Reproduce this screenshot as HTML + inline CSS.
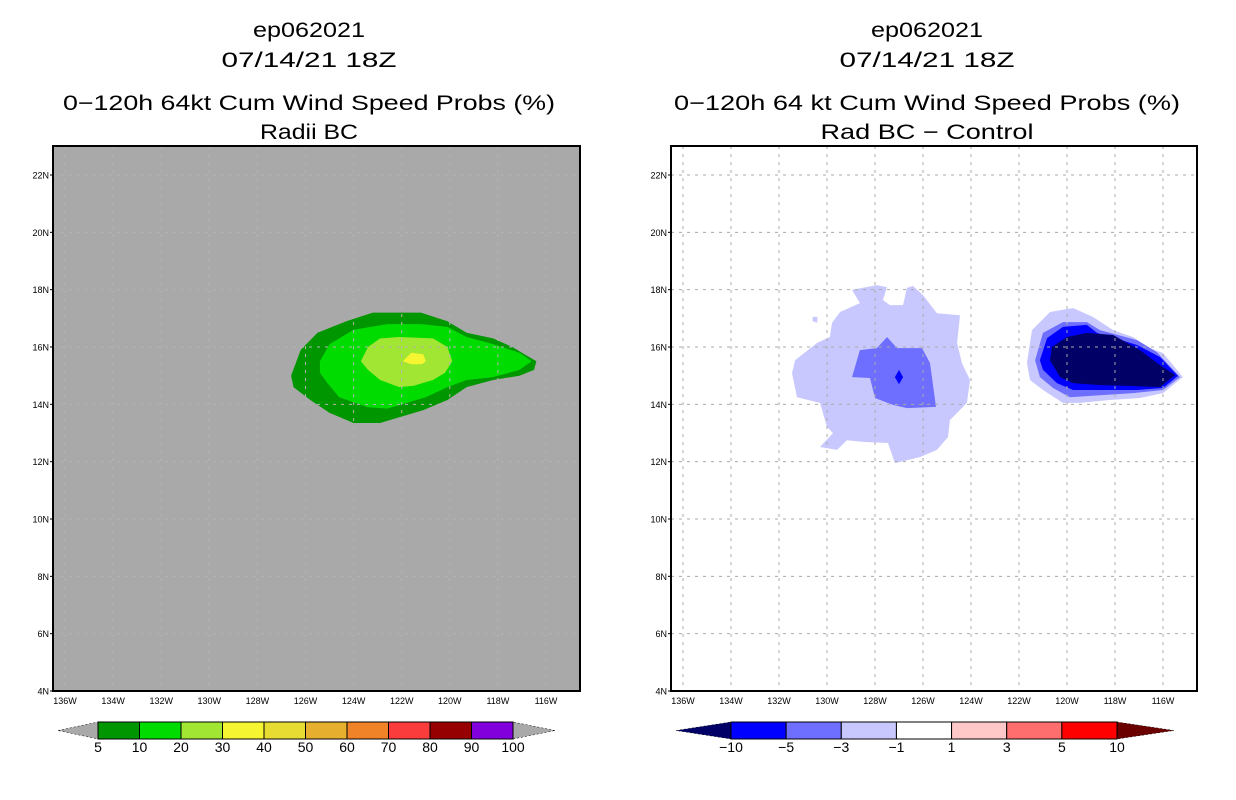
<!DOCTYPE html>
<html><head><meta charset="utf-8"><style>
html,body{margin:0;padding:0;background:#fff;}
svg{display:block;font-family:"Liberation Sans",sans-serif;}
</style></head><body>
<svg id="chart" width="1236" height="800" viewBox="0 0 1236 800">
<g font-size="21" text-anchor="middle" fill="#000">
<text x="309" y="37" textLength="112" lengthAdjust="spacingAndGlyphs">ep062021</text>
<text x="309" y="67" textLength="175" lengthAdjust="spacingAndGlyphs">07/14/21 18Z</text>
<text x="309" y="110" textLength="492" lengthAdjust="spacingAndGlyphs">0−120h 64kt Cum Wind Speed Probs (%)</text>
<text x="309" y="139" textLength="98" lengthAdjust="spacingAndGlyphs">Radii BC</text>
</g>
<g font-size="21" text-anchor="middle" fill="#000">
<text x="927" y="37" textLength="112" lengthAdjust="spacingAndGlyphs">ep062021</text>
<text x="927" y="67" textLength="175" lengthAdjust="spacingAndGlyphs">07/14/21 18Z</text>
<text x="927" y="110" textLength="506" lengthAdjust="spacingAndGlyphs">0−120h 64 kt Cum Wind Speed Probs (%)</text>
<text x="927" y="139" textLength="213" lengthAdjust="spacingAndGlyphs">Rad BC − Control</text>
</g>
<defs>
<clipPath id="clipL"><rect x="53" y="146" width="527" height="545"/></clipPath>
<clipPath id="clipR"><rect x="671" y="146" width="526" height="545"/></clipPath>
</defs>
<rect x="53" y="146" width="527" height="545" fill="#a9a9a9"/>
<rect x="671" y="146" width="526" height="545" fill="#fff"/>
<g id="left-layer" clip-path="url(#clipL)"></g>
<g id="right-layer" clip-path="url(#clipR)"></g>
<rect x="53" y="146" width="527" height="545" fill="none" stroke="#000" stroke-width="2"/>
<rect x="671" y="146" width="526" height="545" fill="none" stroke="#000" stroke-width="2"/>
<g id="axes"></g>
<g id="cbars"></g>
</svg>
<script>
const latTicks = [4,6,8,10,12,14,16,18,20,22];
const lonTicks = [136,134,132,130,128,126,124,122,120,118,116];
const probLevels = ['5','10','20','30','40','50','60','70','80','90','100'];
const probColors = ['#009600','#00dc00','#a0e632','#f5f532','#e6dc32','#e6af2d','#f08228','#fa3c3c','#960000','#8200dc'];
const diffLevels = ['−10','−5','−3','−1','1','3','5','10'];
const diffColors = ['#0000ff','#6e6eff','#c8c8ff','#ffffff','#ffc8c8','#ff6e6e','#ff0000'];

// Left panel contours [lonW, latN]
const prob5 = [[126.6,15.0],[126.2,15.9],[125.5,16.5],[124.3,16.9],[123.2,17.2],[121.2,17.2],[120.1,16.9],[119.3,16.5],[118.2,16.3],[117.4,16.0],[116.8,15.7],[116.4,15.5],[116.5,15.2],[117.1,15.0],[118.2,14.85],[119.3,14.6],[120.1,14.15],[121.1,13.8],[122.1,13.55],[122.9,13.35],[124.0,13.35],[125.0,13.7],[125.8,14.15],[126.5,14.6]];
const prob10 = [[125.4,15.5],[125.0,16.1],[124.0,16.6],[122.6,16.8],[121.2,16.8],[120.1,16.7],[119.3,16.35],[118.2,16.1],[117.1,15.8],[116.6,15.5],[117.1,15.2],[118.2,14.95],[119.3,14.85],[120.1,14.6],[121.0,14.25],[121.8,14.05],[122.6,13.85],[123.4,13.9],[124.6,14.25],[125.1,14.75],[125.4,15.1]];
const prob20 = [[123.7,15.5],[123.4,16.0],[122.9,16.3],[122.1,16.35],[120.7,16.3],[120.1,16.0],[119.9,15.5],[120.2,15.1],[120.7,14.85],[121.5,14.65],[122.1,14.6],[122.9,14.85],[123.4,15.2]];
const prob30 = [[121.95,15.5],[121.6,15.8],[121.1,15.75],[121.0,15.5],[121.15,15.4],[121.6,15.4]];

// Right panel difference contours [lonW, latN]
const westLight = [[128.96,17.99],[127.92,18.16],[127.5,18.09],[127.67,17.64],[127.38,17.46],[126.83,17.46],[126.67,18.06],[126.42,18.13],[126.0,17.81],[125.42,17.18],[124.46,17.11],[124.58,16.14],[124.38,15.44],[124.04,14.85],[124.17,14.05],[124.88,13.45],[124.96,12.86],[125.42,12.41],[126.13,12.16],[127.17,11.95],[127.46,12.65],[128.5,12.69],[129.17,12.75],[129.58,12.41],[130.29,12.51],[129.75,13.0],[130.0,13.21],[130.29,14.05],[131.25,14.25],[131.46,15.09],[131.33,15.54],[130.42,16.14],[129.88,16.35],[129.79,16.84],[129.46,17.22],[128.63,17.53]];
const westSpeck = [[130.6,17.05],[130.4,17.05],[130.4,16.85],[130.6,16.9]];
const westMed = [[128.96,14.95],[128.63,15.89],[127.92,15.96],[127.5,16.35],[127.08,15.96],[126.04,15.96],[125.71,15.44],[125.46,13.91],[126.67,13.87],[127.25,13.98],[128.0,14.22],[128.21,14.92]];
const westDark = [[127.17,14.95],[127.0,15.2],[126.83,14.95],[127.0,14.7]];
const eastLight = [[121.67,15.44],[121.46,16.59],[120.71,17.22],[119.75,17.36],[118.92,17.05],[118.08,16.59],[117.25,16.35],[116.67,16.0],[116.0,15.79],[115.17,14.95],[116.0,14.39],[116.96,14.22],[118.21,14.15],[119.46,14.05],[120.17,14.05],[121.0,14.5],[121.54,14.85]];
const eastMed = [[121.33,15.54],[121.0,16.49],[120.17,16.87],[119.17,16.87],[118.63,16.59],[117.08,16.24],[116.25,15.82],[115.29,14.95],[116.0,14.5],[117.25,14.39],[118.63,14.32],[119.88,14.25],[120.58,14.57],[121.13,14.95]];
const eastBlue = [[121.13,15.54],[120.83,16.31],[120.17,16.7],[119.17,16.77],[118.75,16.49],[117.08,16.07],[116.13,15.65],[115.38,14.99],[116.0,14.57],[117.08,14.5],[118.63,14.5],[119.75,14.5],[120.42,14.74],[121.0,15.2]];
const eastNavy = [[120.71,15.54],[120.63,16.0],[120.0,16.35],[119.17,16.49],[118.08,16.42],[116.96,15.89],[116.25,15.44],[115.5,15.02],[116.13,14.6],[117.25,14.64],[118.63,14.67],[119.75,14.74],[120.29,14.95]];

const NS='http://www.w3.org/2000/svg';
function yLat(lat){return 691-(lat-4)*28.667;}
function xL(lonW){return 65+(136-lonW)*24.05;}
function xR(lonW){return 683+(136-lonW)*24.0;}
function mk(tag,attrs,parent){const e=document.createElementNS(NS,tag);for(const k in attrs)e.setAttribute(k,attrs[k]);parent.appendChild(e);return e;}
function poly(pts,xf,fill,parent,name){
  const p=mk('polygon',{points:pts.map(d=>xf(d[0]).toFixed(1)+','+yLat(d[1]).toFixed(1)).join(' '),fill:fill},parent);
  
  
}
const L=document.getElementById('left-layer'), R=document.getElementById('right-layer');
poly(prob5,xL,probColors[0],L,'contour-5pct');
poly(prob10,xL,probColors[1],L,'contour-10pct');
poly(prob20,xL,probColors[2],L,'contour-20pct');
poly(prob30,xL,probColors[3],L,'contour-30pct');
poly(westLight,xR,'#c8c8ff',R,'west-diff-minus1');
poly(westSpeck,xR,'#c8c8ff',R,'west-diff-speck');
poly(westMed,xR,'#6e6eff',R,'west-diff-minus3');
poly(westDark,xR,'#0000ff',R,'west-diff-minus5');
poly(eastLight,xR,'#c8c8ff',R,'east-diff-minus1');
poly(eastMed,xR,'#6e6eff',R,'east-diff-minus3');
poly(eastBlue,xR,'#0000ff',R,'east-diff-minus5');
poly(eastNavy,xR,'#000066',R,'east-diff-minus10');

function grid(layer,xf,x0,x1,col){
  latTicks.forEach(t=>{const g=mk('line',{x1:x0,x2:x1,y1:yLat(t),y2:yLat(t),stroke:col,'stroke-width':1,'stroke-dasharray':'3,5'},layer);
    
    });
  lonTicks.forEach(t=>{const g=mk('line',{x1:xf(t),x2:xf(t),y1:146,y2:691,stroke:col,'stroke-width':1,'stroke-dasharray':'3,5'},layer);
    
    });
}
grid(L,xL,53,580,'#b4b4b4');
grid(R,xR,671,1197,'#aaaaaa');

const A=document.getElementById('axes');
function axes(xf,left,name){
  latTicks.forEach(t=>{
    const tx=mk('text',{x:left-4,y:yLat(t)+3.5,'font-size':9,'text-anchor':'end',fill:'#000'},A);
    tx.textContent=t+'N';
    
    
    mk('line',{x1:left-3,x2:left,y1:yLat(t),y2:yLat(t),stroke:'#000','stroke-width':1},A);
  });
  lonTicks.forEach(t=>{
    const tx=mk('text',{x:xf(t),y:704,'font-size':9,'text-anchor':'middle',fill:'#000'},A);
    tx.textContent=t+'W';
    
    
  });
}
axes(xL,53,'left');
axes(xR,671,'right');

const C=document.getElementById('cbars');
function cbar(x0,x1,tipL,tipR,cols,labels,lc,rc,name){
  const y0=722,y1=739,ym=730.5,w=(x1-x0)/cols.length;
  const tl=mk('polygon',{points:`${tipL},${ym} ${x0},${y0} ${x0},${y1}`,fill:lc,stroke:'#000','stroke-width':0.5,'stroke-dasharray':'2,2'},C);
  
  
  const tr=mk('polygon',{points:`${tipR},${ym} ${x1},${y0} ${x1},${y1}`,fill:rc,stroke:'#000','stroke-width':0.5,'stroke-dasharray':'2,2'},C);
  
  
  cols.forEach((c,i)=>{
    const r=mk('rect',{x:x0+i*w,y:y0,width:w,height:y1-y0,fill:c,stroke:'#000','stroke-width':1},C);
    
    
  });
  labels.forEach((l,i)=>{
    const t=mk('text',{x:x0+i*w,y:752,'font-size':14,'text-anchor':'middle',fill:'#000'},C);
    t.textContent=l;
    
    
  });
}
cbar(98,513,58,555,probColors,probLevels,'#a9a9a9','#a9a9a9','prob-colorbar');
cbar(731,1117,676,1174,diffColors,diffLevels,'#000066','#6b0000','diff-colorbar');
</script>
</body></html>
